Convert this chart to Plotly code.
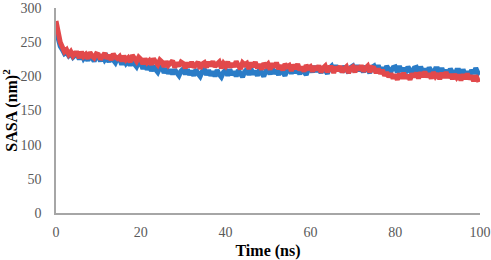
import plotly.graph_objects as go

# time grid of the trajectory, 0.5 ns steps
TIME_NS = [i * 0.5 for i in range(201)]

SASA_BLUE = [
    268, 255, 244, 239, 233, 235, 230, 233, 228, 231,
    232, 225, 233, 226, 230, 223, 232, 227, 222, 230,
    230, 222, 231, 224, 228, 221, 230, 224, 220, 227,
    226, 217, 225, 219, 223, 216, 223, 218, 214, 221,
    219, 211, 218, 210, 216, 208, 215, 210, 206, 213,
    213, 205, 212, 204, 210, 203, 210, 205, 201, 208,
    211, 203, 210, 202, 208, 201, 210, 204, 200, 207,
    210, 202, 209, 201, 207, 200, 209, 203, 199, 206,
    209, 201, 210, 202, 207, 200, 209, 204, 199, 207,
    210, 202, 211, 203, 208, 201, 210, 205, 200, 208,
    211, 203, 212, 204, 209, 202, 211, 206, 201, 209,
    212, 204, 213, 205, 210, 203, 212, 207, 202, 210,
    214, 206, 215, 207, 212, 205, 214, 209, 204, 212,
    215, 207, 216, 208, 213, 206, 215, 210, 205, 213,
    215, 207, 216, 208, 213, 206, 215, 210, 205, 213,
    215, 207, 216, 208, 213, 206, 215, 210, 207, 213,
    214, 206, 215, 207, 212, 205, 214, 209, 204, 212,
    213, 205, 214, 206, 211, 204, 213, 208, 203, 211,
    211, 203, 212, 204, 209, 202, 211, 206, 201, 209,
    209, 201, 210, 202, 207, 200, 209, 204, 212, 205,
    203,
]

SASA_RED = [
    281, 264, 250, 243, 236, 239, 232, 236, 230, 234,
    234, 227, 236, 229, 232, 226, 235, 230, 227, 233,
    232, 225, 230, 234, 226, 231, 224, 233, 228, 226,
    229, 222, 230, 224, 227, 221, 231, 225, 222, 228,
    225, 218, 226, 220, 223, 217, 226, 221, 217, 224,
    221, 214, 222, 216, 219, 223, 213, 220, 215, 221,
    219, 212, 220, 214, 221, 213, 217, 221, 211, 218,
    220, 213, 221, 215, 222, 214, 218, 221, 212, 219,
    215, 221, 213, 219, 214, 222, 216, 211, 220, 217,
    219, 211, 220, 214, 221, 212, 218, 210, 219, 215,
    218, 210, 219, 213, 220, 211, 216, 209, 218, 214,
    216, 208, 217, 211, 218, 209, 214, 207, 216, 212,
    214, 207, 215, 209, 216, 206, 212, 215, 206, 213,
    213, 205, 214, 208, 215, 206, 211, 214, 205, 212,
    214, 206, 215, 209, 216, 207, 212, 215, 206, 213,
    212, 205, 211, 204, 209, 201, 206, 199, 204, 197,
    203, 195, 204, 197, 205, 197, 202, 195, 204, 199,
    205, 197, 206, 199, 207, 199, 204, 197, 206, 200,
    204, 196, 205, 198, 206, 198, 203, 196, 203, 198,
    202, 194, 203, 196, 204, 196, 201, 193, 201, 195,
    196,
]

X_TICKS = [0, 20, 40, 60, 80, 100]
Y_TICKS = [0, 50, 100, 150, 200, 250, 300]


def main():
    fig = go.Figure()
    fig.add_scatter(
        x=TIME_NS, y=SASA_BLUE, mode="lines",
        line=dict(color="#2a7cc7", width=5), showlegend=False,
    )
    fig.add_scatter(
        x=TIME_NS, y=SASA_RED, mode="lines",
        line=dict(color="#e2494b", width=5), showlegend=False,
    )
    axis_common = dict(
        showgrid=False,
        zeroline=False,
        showline=True,
        linecolor="#a6a6a6",
        linewidth=1.5,
        ticks="",
        automargin=False,
        tickfont=dict(family="Liberation Serif", size=14, color="#595959"),
    )
    fig.update_xaxes(
        range=[0, 100], tickvals=X_TICKS, ticklabelstandoff=5,
        title=dict(text="<b>Time (ns)</b>", standoff=10,
                   font=dict(family="Liberation Serif", size=16, color="black")),
        **axis_common,
    )
    fig.update_yaxes(
        range=[0, 300], tickvals=Y_TICKS, ticklabelstandoff=10,
        title=dict(text="<b>SASA (nm)<sup>2</sup></b>", standoff=0,
                   font=dict(family="Liberation Serif", size=16, color="black")),
        **axis_common,
    )
    fig.update_layout(
        width=491,
        height=260,
        template="plotly_white",
        plot_bgcolor="white",
        paper_bgcolor="white",
        margin=dict(l=56, r=11, t=8, b=47),
    )
    # drop the browser's default body margin so the figure sits at 0,0
    fig.write_html(
        "out.html",
        config={"displayModeBar": False},
        post_script="document.body.style.margin = '0';",
    )


if __name__ == "__main__":
    main()
